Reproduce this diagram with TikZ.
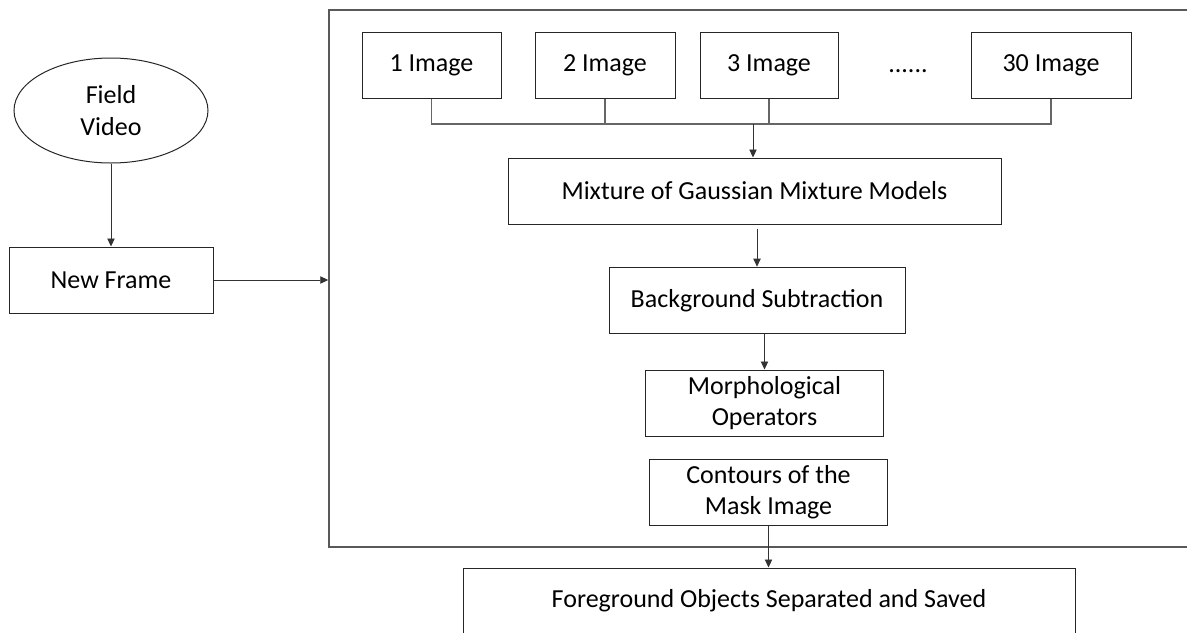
\documentclass[tikz,border=0pt]{standalone}
\usepackage{fontspec}
\setmainfont{Carlito}
\usetikzlibrary{shapes.geometric,arrows.meta}
\begin{document}
\begin{tikzpicture}[x=0.75pt, y=-0.75pt,
            b/.style={draw=black!85, line width=0.75pt, inner sep=0pt, minimum height=49.5pt,
            align=center, font=\fontsize{19.5}{23.5}\selectfont},
            a/.style={draw=black!80, -{Triangle[length=6pt,width=5.5pt]}, line width=0.65pt},
            bus/.style={draw=black!60, line width=0.9pt}]
            \clip (0,0) rectangle (1187,632);

            \node[draw=black!65, line width=1.1pt, minimum width=653.25pt, minimum height=402.75pt] (box) at (764.5,278.5) {};

            \node[b,ellipse,minimum width=145.5pt,minimum height=78.75pt] (vid) at (111,110.5) {Field\\Video};
            \node[b,minimum width=153pt] (frame) at (111,280) {New Frame};

            \node[b,minimum width=104.25pt] (img1) at (431.5,65) {1 Image};
            \node[b,minimum width=105pt] (img2) at (605,65) {2 Image};
            \node[b,minimum width=103.5pt] (img3) at (769,65) {3 Image};
            \node[font=\fontsize{19.5}{23.5}\selectfont] (dots) at (908,71) {......};
            \node[b,minimum width=120pt] (img30) at (1051,65) {30 Image};

            \node[b,minimum width=369.75pt] (mgmm) at (754.5,191) {Mixture of Gaussian Mixture Models};
            \node[b,minimum width=222pt,minimum height=50pt] (bgs) at (757,300.5) {Background Subtraction};
            \node[b,minimum width=178pt] (morph) at (764.5,403) {Morphological\\Operators};
            \node[b,minimum width=179pt,minimum height=50pt] (cont) at (768.5,492.5) {Contours of the\\Mask Image};
            \node[b,minimum width=459pt] (fg) at (769,601) {Foreground Objects Separated and Saved};

            \coordinate (join) at (753,124);

            \draw[a] (vid) to (frame);
            \draw[a] (frame.east) to (frame.east -| box.west);

            \draw[bus] (img1.south) |- (join) -| (img30.south);
            \draw[bus] (img2.south) to (img2.south |- join);
            \draw[bus] (img3.south) to (img3.south |- join);
            \draw[a] (join) to (join |- mgmm.north);

            \draw[a] ([yshift=-3pt]bgs.north |- mgmm.south) to (bgs.north);
            \draw[a] (morph.north |- bgs.south) to (morph.north);
            \draw[a] (cont.south) to (cont.south |- fg.north);
        \end{tikzpicture}
\end{document}
